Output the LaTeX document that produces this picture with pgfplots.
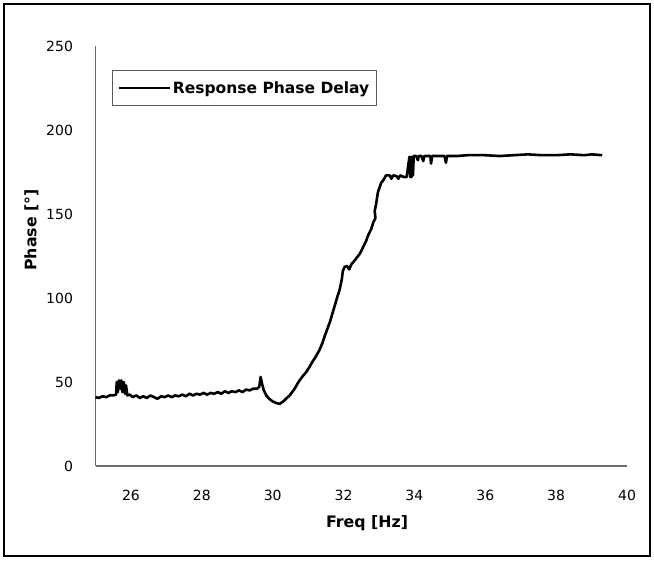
\documentclass[border=0pt]{standalone}
\usepackage{fontspec}
\setmainfont{DejaVu Sans}
\usepackage{pgfplots}
\pgfplotsset{compat=1.18}
\begin{document}
\begin{tikzpicture}
\begin{axis}[
 scale only axis, width=531.5pt, height=420pt,
 xmin=25, xmax=40, ymin=0, ymax=250,
 axis x line=bottom, axis y line=left,
 axis line style={-, gray!85!black, line width=1.2pt},
 xtick={26,28,...,40}, ytick={0,50,...,250},
 major tick length=0pt,
 tick label style={font=\fontsize{14}{16}\selectfont},
 /pgf/number format/assume math mode=true,
 xticklabel style={yshift=-21pt},
 yticklabel style={xshift=-19pt},
 every axis x label/.style={at={(axis description cs:0.511,-0.1357)}, anchor=center},
 every axis y label/.style={at={(axis description cs:-0.1205,0.562)}, rotate=90, anchor=center},
 label style={font=\bfseries\fontsize{15.8}{18}\selectfont},
 xlabel={Freq [Hz]}, ylabel={Phase [°]},
 legend style={at={(axis description cs:0.031,0.943)}, anchor=north west, draw=gray!70!black, thick, font=\bfseries\fontsize{15.5}{18}\selectfont, inner xsep=5pt, inner ysep=9pt},
 legend image code/.code={\draw[#1] (2pt,0pt) -- (53pt,0pt);},
 legend cell align=left,
 clip=false,
]
\addplot[black, line width=2.6pt, line join=round] table {
x y
25.00 41
25.10 40.5
25.20 41.5
25.30 41
25.40 42
25.50 42
25.58 42.5
25.60 50
25.63 44
25.66 51
25.70 46
25.73 51
25.76 44
25.80 50
25.83 43
25.86 48
25.90 42
25.97 42.5
26.05 41
26.15 42
26.25 40.5
26.35 41.5
26.45 40.5
26.55 42
26.65 41
26.75 40
26.85 41.5
26.95 41
27.05 42
27.15 41
27.25 42
27.35 41.5
27.45 42.5
27.55 41.5
27.65 43
27.75 42
27.85 43
27.95 42.5
28.05 43.5
28.15 42.5
28.25 43.5
28.35 43
28.45 44
28.55 43
28.65 44.5
28.75 43.5
28.85 44.5
28.95 44
29.05 45
29.15 44
29.25 45.5
29.35 45
29.45 46
29.55 46
29.62 47
29.66 53
29.70 49
29.75 45
29.82 42
29.90 40
30.00 38.5
30.10 37.5
30.20 37
30.30 38.5
30.40 40.5
30.48 42
30.55 44
30.62 46
30.70 49
30.76 51
30.85 53.5
30.95 56
31.04 59
31.12 62
31.20 64.5
31.32 69
31.40 73
31.48 78
31.55 82
31.62 86
31.69 91
31.76 96
31.83 101
31.89 105
31.95 111
31.98 116
32.03 118.5
32.10 119
32.16 117
32.22 120
32.30 122
32.39 124.5
32.45 126
32.50 128
32.58 131.5
32.64 134
32.68 136.5
32.72 138.5
32.78 141
32.84 145
32.90 147.5
32.88 152
32.92 156
32.97 163
33.02 166
33.06 168.5
33.12 170
33.20 173
33.30 173
33.35 171
33.40 173
33.50 172.5
33.55 171
33.60 173
33.70 172
33.78 172
33.86 184
33.88 172
33.90 184
33.92 172
33.94 184
33.96 173
33.98 184.5
34.05 184.5
34.10 182
34.12 184.5
34.20 184.5
34.25 181.5
34.28 184.5
34.45 184.5
34.47 180
34.50 184.5
34.85 184.5
34.89 180.5
34.92 184.5
35.20 184.5
35.50 185
36.00 185
36.40 184.5
36.80 185
37.20 185.5
37.60 185
38.00 185
38.40 185.5
38.80 185
39.00 185.5
39.30 185
};
\addlegendentry{Response Phase Delay}
\coordinate (ll) at (rel axis cs:0,0);
\coordinate (ur) at (rel axis cs:1,1);
\end{axis}
\draw[line width=2.5pt] ([shift={(-91.5pt,-90pt)}]ll) rectangle ([shift={(23pt,42pt)}]ur);
\path ([shift={(-95.5pt,-96pt)}]ll) rectangle ([shift={(27pt,46pt)}]ur);
\end{tikzpicture}
\end{document}
